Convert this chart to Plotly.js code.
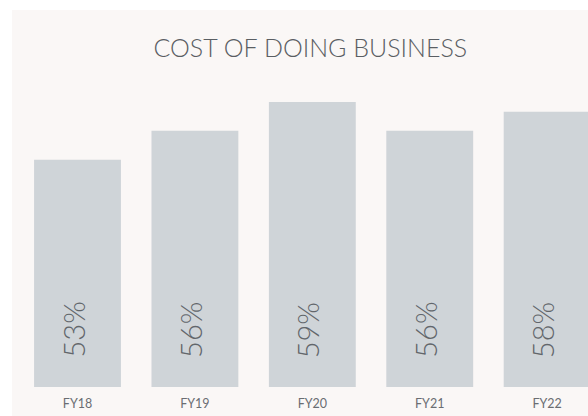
<!DOCTYPE html>
<html>
<head>
<meta charset="utf-8">
<script src="https://cdn.plot.ly/plotly-3.0.1.min.js"></script>
<style>
html,body{margin:0;padding:0;background:#ffffff;width:588px;height:416px;overflow:hidden;}
#chart{position:absolute;left:12px;top:10px;width:576px;height:406px;}
</style>
</head>
<body>
<div id="chart"></div>
<script>
const categories = ["FY18", "FY19", "FY20", "FY21", "FY22"];
const costValues = [53, 56, 59, 56, 58];
const valueLabels = ["53%", "56%", "59%", "56%", "58%"];
const chartTitle = "COST OF DOING BUSINESS";

const FONT = "Lato, 'Noto Sans', sans-serif";
const yMin = 29.3, yMax = 68.6;

const trace = {
  type: "bar",
  x: categories,
  y: costValues,
  marker: {color: "#cfd4d8", line: {width: 0}},
  hoverinfo: "none"
};

const annotations = categories.map((c, i) => ({
  x: c, y: yMin, xref: "x", yref: "y",
  text: valueLabels[i],
  showarrow: false,
  textangle: -90,
  xanchor: "center", yanchor: "bottom",
  xshift: -5, yshift: 27,
  font: {family: FONT, size: 29, weight: 300, color: "#62666b"}
}));

const layout = {
  width: 576, height: 406,
  paper_bgcolor: "#faf7f6",
  plot_bgcolor: "#faf7f6",
  margin: {l: 0, r: 0, t: 0, b: 29},
  showlegend: false,
  bargap: 0.26,
  title: {
    text: chartTitle,
    x: 0.518, xanchor: "center",
    y: 0.905, yanchor: "middle",
    xref: "container", yref: "container",
    font: {family: FONT, size: 25, weight: 300, color: "#5a5e63"}
  },
  xaxis: {
    type: "category",
    range: [-0.558, 4.348],
    showgrid: false, zeroline: false, showline: false,
    ticks: "", ticklen: 0,
    ticklabelstandoff: 7,
    tickfont: {family: FONT, size: 12.5, color: "#6a6d72"},
    fixedrange: true
  },
  yaxis: {
    range: [yMin, yMax],
    visible: false,
    fixedrange: true
  },
  annotations: annotations
};

Plotly.newPlot("chart", [trace], layout, {displayModeBar: false, staticPlot: true});
</script>
</body>
</html>
